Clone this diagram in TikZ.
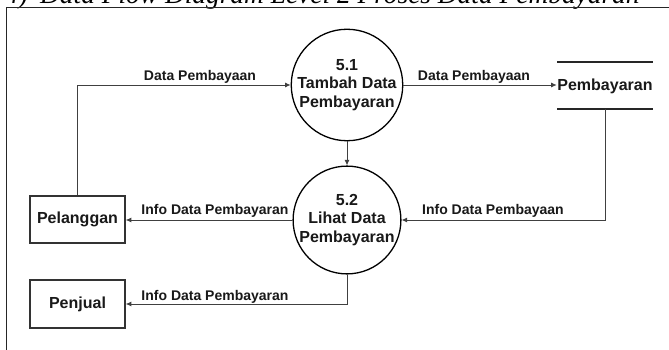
\documentclass[tikz,border=0pt]{standalone}
\usepackage{fontspec}
\usetikzlibrary{arrows.meta}
\newfontfamily\labelfont{Liberation Sans}
\newfontfamily\titlefont{Liberation Serif}
\tikzset{
  flow/.style={draw=black!75, line width=0.9pt, -{Latex[length=5.5pt,width=5pt]}},
  plain/.style={draw=black!75, line width=0.9pt},
  process/.style={circle, draw=black, line width=1.3pt, minimum size=106pt, inner sep=0pt,
    align=center, font=\labelfont\bfseries\fontsize{16pt}{18.5pt}\selectfont, text=black!90},
  entity/.style={rectangle, draw=black!80, line width=1.5pt, minimum width=95pt, minimum height=47pt,
    inner sep=0pt, font=\labelfont\bfseries\fontsize{16pt}{18pt}\selectfont, text=black!90},
  storetext/.style={inner sep=0.5pt, font=\labelfont\bfseries\fontsize{16pt}{18pt}\selectfont, text=black!90},
  flowlabel/.style={inner sep=0pt, font=\labelfont\bfseries\fontsize{14pt}{16pt}\selectfont, text=black!90},
}
\begin{document}
\begin{tikzpicture}[x=1pt, y=-1pt]
  \useasboundingbox (0,0) rectangle (669,350);
  \fill[white] (0,0) rectangle (669,350);

  % heading, cut off by the top edge of the page
  \node[anchor=base west, inner sep=0pt, font=\titlefont\itshape\fontsize{27.4pt}{30pt}\selectfont]
    (num) at (5,3.5) {4)};
  \node[anchor=base west, inner sep=0pt, font=\titlefont\itshape\fontsize{27.4pt}{30pt}\selectfont]
    (heading) at (40,3.5) {Data Flow Diagram Level 2 Proses Data Pembayaran};

  % frame
  \draw[black!85, line width=1pt] (6.5,350) -- (6.5,7.5) -- (669,7.5);

  % processes
  \node[process] (p51) at (347,85) {5.1\\Tambah Data\\Pembayaran};
  \node[process] (p52) at (347,220) {5.2\\Lihat Data\\Pembayaran};

  % external entities
  \node[entity] (pel) at (77.5,219.5) {Pelanggan};
  \node[entity, minimum height=48pt] (pen) at (77.5,304) {Penjual};

  % data store
  \coordinate (stl1) at (557,62);
  \coordinate (str1) at (653,62);
  \coordinate (stl2) at (557,109);
  \coordinate (str2) at (653,109);
  \draw[black!85, line width=1.3pt] (stl1) -- (str1);
  \draw[black!85, line width=1.3pt] (stl2) -- (str2);
  \node[storetext] (store) at (605,86) {Pembayaran};
  \coordinate (sb) at (605,109);

  % flows
  \draw[flow] (pel.north) |- (p51.west);
  \draw[flow] (p51.east) -- (store.west |- p51.east);
  \draw[flow] (p51.south) -- (p52.north);
  \draw[flow] (sb) |- (p52.east);
  \draw[flow] (p52.west) -- (pel.east |- p52.west);
  \draw[flow] (p52.south) |- (pen.east);

  % flow labels
  \node[flowlabel] (l1) at (200,77) {Data Pembayaan};
  \node[flowlabel] (l2) at (474,77) {Data Pembayaan};
  \node[flowlabel] (l3) at (493,211) {Info Data Pembayaan};
  \node[flowlabel] (l4) at (215,211) {Info Data Pembayaran};
  \node[flowlabel] (l5) at (215,297) {Info Data Pembayaran};
\end{tikzpicture}
\end{document}
